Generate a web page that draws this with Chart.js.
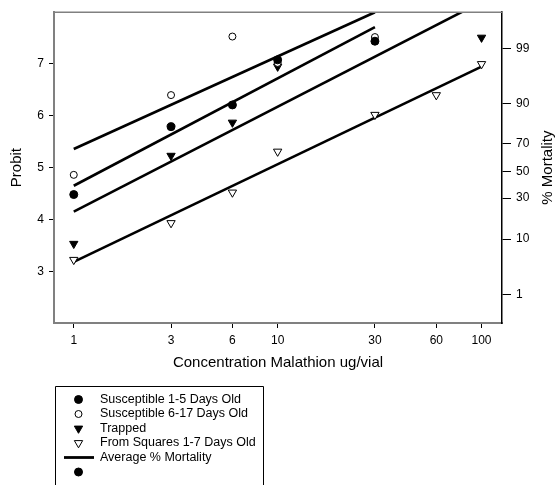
<!DOCTYPE html>
<html>
<head>
<meta charset="utf-8">
<script src="https://cdn.jsdelivr.net/npm/chart.js@4.4.1/dist/chart.umd.min.js"></script>
<style>
  html, body { margin: 0; padding: 0; background: #fff; }
  #wrap { width: 558px; height: 485px; }
</style>
</head>
<body>
<div id="wrap"><canvas id="chart" width="558" height="485"></canvas></div>
<script>
// axis ticks
const concTicks = [1, 3, 6, 10, 30, 60, 100];
const probitTicks = [3, 4, 5, 6, 7];
// right axis: % mortality labels sitting at their probit values
const mortalityLabels = ['99', '90', '70', '50', '30', '10', '1'];
const mortalityProbits = [7.30, 6.23, 5.46, 4.92, 4.41, 3.62, 2.55];

// observed probits
const susc15Conc = [1, 3, 6, 10, 30];
const susc15Probit = [4.48, 5.79, 6.21, 7.08, 7.44];
const susc617Conc = [1, 3, 6, 10, 30];
const susc617Probit = [4.86, 6.40, 7.53, 7.02, 7.52];
const trappedConc = [1, 3, 6, 10, 100];
const trappedProbit = [3.53, 5.23, 5.87, 6.95, 7.51];
const squaresConc = [1, 3, 6, 10, 30, 60, 100];
const squaresProbit = [3.22, 3.93, 4.52, 5.31, 6.02, 6.40, 7.00];

// fitted lines (average % mortality)
const fit617Conc = [1, 30];
const fit617Probit = [5.36, 8.0];
const fit15Conc = [1, 30];
const fit15Probit = [4.65, 7.71];
const fitTrappedConc = [1, 100];
const fitTrappedProbit = [4.15, 8.2];
const fitSquaresConc = [1, 100];
const fitSquaresProbit = [3.18, 6.95];

const legendLabels = ['Susceptible 1-5 Days Old', 'Susceptible 6-17 Days Old', 'Trapped',
  'From Squares 1-7 Days Old', 'Average % Mortality', ''];

const FONT = '"Liberation Sans", Arial, sans-serif';
const pts = (xs, ys) => xs.map((x, i) => ({ x: x, y: ys[i] }));

const markers = [
  { pointStyle: 'circle', radius: 4, rotation: 0, fill: '#000' },
  { pointStyle: 'circle', radius: 3.5, rotation: 0, fill: '#fff' },
  { pointStyle: 'triangle', radius: 4.8, rotation: 180, fill: '#000' },
  { pointStyle: 'triangle', radius: 4.8, rotation: 180, fill: '#fff' },
];

function markerSet(label, data, m) {
  return {
    label: label,
    data: data,
    showLine: false,
    pointStyle: m.pointStyle,
    pointRadius: m.radius,
    pointRotation: m.rotation,
    pointBackgroundColor: m.fill,
    pointBorderColor: '#000',
    pointBorderWidth: 1,
  };
}

function lineSet(data) {
  return {
    label: 'Average % Mortality',
    data: data,
    showLine: true,
    pointRadius: 0,
    borderColor: '#000',
    borderWidth: 2.6,
    clip: 0,
  };
}

function drawMarker(ctx, m, x, y) {
  ctx.save();
  ctx.fillStyle = m.fill;
  ctx.strokeStyle = '#000';
  ctx.lineWidth = 1;
  ctx.beginPath();
  if (m.pointStyle === 'circle') {
    ctx.arc(x, y, m.radius, 0, Math.PI * 2);
  } else {
    let rad = m.rotation * Math.PI / 180;
    for (let k = 0; k < 3; k++) {
      const px = x + Math.sin(rad) * m.radius, py = y - Math.cos(rad) * m.radius;
      if (k === 0) ctx.moveTo(px, py); else ctx.lineTo(px, py);
      rad += Math.PI * 2 / 3;
    }
    ctx.closePath();
  }
  ctx.fill();
  ctx.stroke();
  ctx.restore();
}

const extrasPlugin = {
  id: 'extras',
  afterDraw(chart) {
    const ctx = chart.ctx;
    const area = chart.chartArea;
    ctx.save();
    // grey top frame line
    ctx.strokeStyle = '#808080';
    ctx.lineWidth = 1.5;
    ctx.beginPath();
    ctx.moveTo(area.left, area.top);
    ctx.lineTo(area.right, area.top);
    ctx.stroke();

    // right axis title, reading bottom to top
    ctx.fillStyle = '#000';
    ctx.font = '15px ' + FONT;
    ctx.textAlign = 'center';
    ctx.textBaseline = 'middle';
    ctx.translate(548, (area.top + area.bottom) / 2);
    ctx.rotate(-Math.PI / 2);
    ctx.fillText('% Mortality', 0, 0);
    ctx.restore();

    // legend box, open at the bottom
    ctx.save();
    ctx.strokeStyle = '#000';
    ctx.lineWidth = 1;
    ctx.beginPath();
    ctx.moveTo(55.5, 485);
    ctx.lineTo(55.5, 386.5);
    ctx.lineTo(263.5, 386.5);
    ctx.lineTo(263.5, 485);
    ctx.stroke();
    ctx.font = '12.5px ' + FONT;
    ctx.fillStyle = '#000';
    ctx.textBaseline = 'middle';
    ctx.textAlign = 'left';
    legendLabels.forEach((text, i) => {
      const y = 399.5 + i * 14.5;
      if (i < 4) {
        drawMarker(ctx, markers[i], 78.5, y);
      } else if (i === 4) {
        ctx.lineWidth = 2.8;
        ctx.beginPath();
        ctx.moveTo(64, y);
        ctx.lineTo(94, y);
        ctx.stroke();
      } else {
        drawMarker(ctx, markers[0], 78.5, y);
      }
      if (text) ctx.fillText(text, 100, y);
    });
    ctx.restore();
  }
};

new Chart(document.getElementById('chart'), {
  type: 'scatter',
  data: {
    datasets: [
      markerSet(legendLabels[0], pts(susc15Conc, susc15Probit), markers[0]),
      markerSet(legendLabels[1], pts(susc617Conc, susc617Probit), markers[1]),
      markerSet(legendLabels[2], pts(trappedConc, trappedProbit), markers[2]),
      markerSet(legendLabels[3], pts(squaresConc, squaresProbit), markers[3]),
      lineSet(pts(fit617Conc, fit617Probit)),
      lineSet(pts(fit15Conc, fit15Probit)),
      lineSet(pts(fitTrappedConc, fitTrappedProbit)),
      lineSet(pts(fitSquaresConc, fitSquaresProbit)),
    ]
  },
  options: {
    responsive: false,
    animation: false,
    devicePixelRatio: 1,
    layout: { padding: { top: 11, left: 0, right: 0, bottom: 113 } },
    plugins: { legend: { display: false }, tooltip: { enabled: false } },
    scales: {
      x: {
        type: 'logarithmic',
        min: 0.8,
        max: 126,
        afterBuildTicks: (scale) => { scale.ticks = concTicks.map(v => ({ value: v })); },
        afterFit: (scale) => { scale.height = 49; },
        ticks: {
          callback: (v) => String(v),
          color: '#000',
          font: { family: FONT, size: 12 },
          padding: 5,
          maxRotation: 0,
          autoSkip: false,
        },
        grid: { drawOnChartArea: false, tickLength: 5, color: '#000', lineWidth: 1 },
        border: { color: '#808080', width: 2 },
        title: {
          display: true,
          text: 'Concentration Malathion ug/vial',
          color: '#000',
          font: { family: FONT, size: 15 },
          padding: { top: 0, bottom: 0 },
        },
      },
      y: {
        position: 'left',
        min: 2,
        max: 8,
        afterBuildTicks: (scale) => { scale.ticks = probitTicks.map(v => ({ value: v })); },
        afterFit: (scale) => { scale.width = 54; },
        ticks: { color: '#000', font: { family: FONT, size: 12 }, padding: 5 },
        grid: { drawOnChartArea: false, tickLength: 5, color: '#000', lineWidth: 1 },
        border: { color: '#808080', width: 2 },
        title: {
          display: true,
          text: 'Probit',
          color: '#000',
          font: { family: FONT, size: 15 },
          padding: { top: 8, bottom: 0 },
        },
      },
      yMortality: {
        position: 'right',
        min: 2,
        max: 8,
        afterBuildTicks: (scale) => { scale.ticks = mortalityProbits.map(v => ({ value: v })); },
        afterFit: (scale) => { scale.width = 56; },
        ticks: {
          color: '#000',
          font: { family: FONT, size: 12 },
          padding: 5,
          callback: (v, i) => mortalityLabels[i],
        },
        grid: { drawOnChartArea: false, tickLength: 9, color: '#000', lineWidth: 1 },
        border: { color: '#000', width: 1.5 },
      },
    },
  },
  plugins: [extrasPlugin],
});
</script>
</body>
</html>
